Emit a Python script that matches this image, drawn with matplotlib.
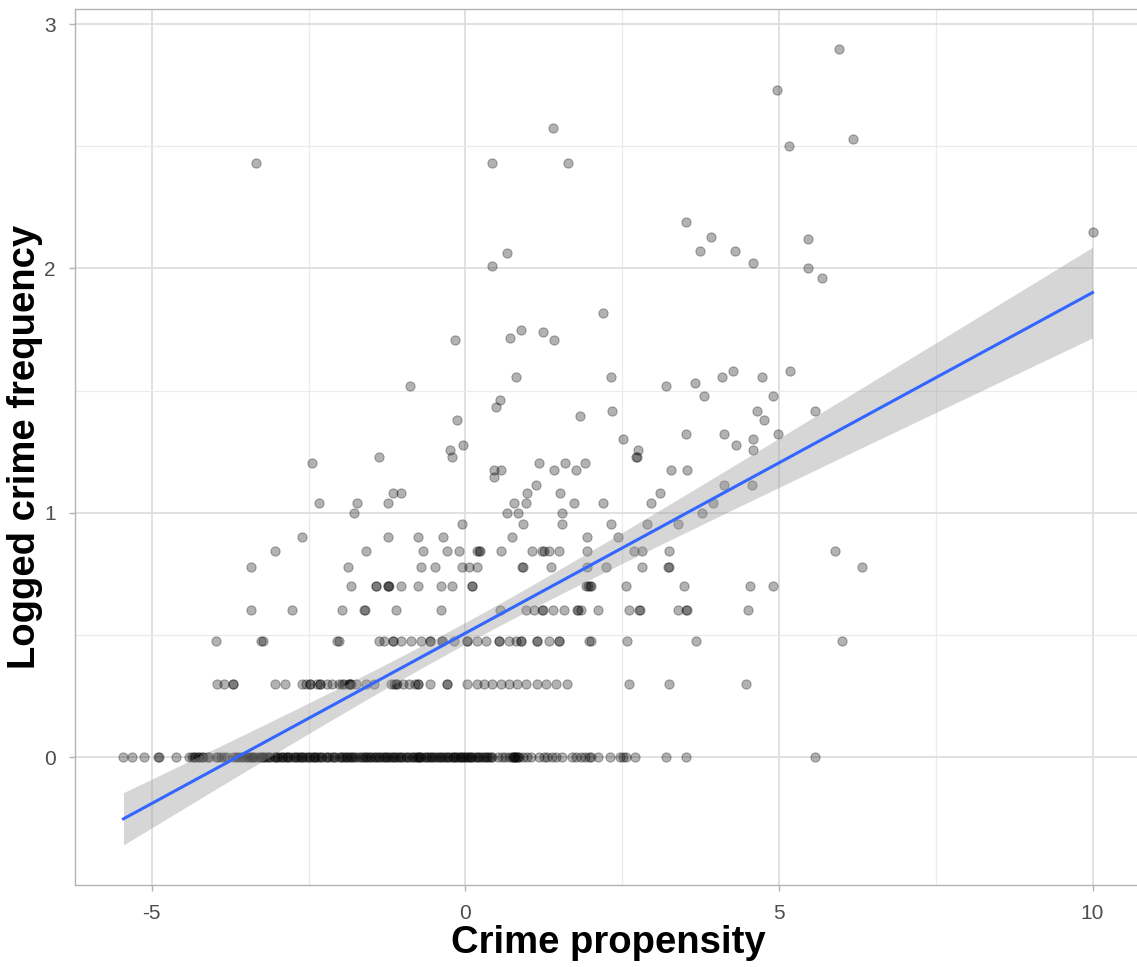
import numpy as np
import matplotlib
matplotlib.use("Agg")
import matplotlib.pyplot as plt

plt.rcParams['font.family'] = ['Liberation Sans', 'DejaVu Sans']
plt.rcParams['axes.unicode_minus'] = False

# crime propensity of each respondent, grouped by number of crimes reported
prop_1 = [-5.45, -5.32, -5.13, -4.90, -4.89, -4.62, -4.40, -4.36, -4.31, -4.27, -4.24, -4.20,
          -4.12, -3.97, -3.95, -3.84, -3.71, -3.62, -3.55, -3.49, -3.44, -3.38, -3.31, -3.27,
          -3.22, -3.16, -3.11, -3.05, -3.01, -2.95, -2.90, -2.86, -2.80, -2.74, -2.70, -2.66,
          -2.61, -2.55, -2.52, -2.47, -2.41, -2.36, -2.33, -2.28, -2.22, -2.17, -2.12, -2.08,
          -2.02, -1.96, -1.93, -1.88, -1.83, -1.77, -1.74, -1.69, -1.63, -1.58, -1.55, -1.50,
          -1.44, -1.41, -1.36, -1.31, -1.27, -1.22, -1.19, -1.14, -1.08, -1.04, -0.99, -0.95,
          -0.90, -0.85, -0.81, -0.77, -0.72, -0.66, -0.63, -0.58, -0.53, -0.50, -0.46, -0.41,
          -0.36, -0.33, -0.29, -0.24, -0.20, -0.15, -0.11, -0.07, -0.02, 0.02, 0.07, 0.11,
          0.15, 0.20, 0.24, 0.29, 0.33, 0.38, 0.43,
          -3.40, -3.20, -3.00, -2.85, -2.60, -2.40, -1.90, -1.45, -1.30, -1.10, -0.75, -0.70,
          -0.20, -0.05, 0.05,
          -4.33, -4.18, -4.08, -3.90, -3.80, -3.66, -3.58, -3.46, -3.35, -3.24, -3.13, -3.03,
          -2.93, -2.82, -2.72, -2.63, -2.50, -2.43, -2.30, -2.20, -2.10, -1.99, -1.86, -1.80,
          -1.66, -1.60, -1.52, -1.38, -1.25, -1.16, -1.02, -0.93, -0.83, -0.74, -0.61, -0.55,
          -0.44, -0.38, -0.27, -0.17, -0.09, 0.00, 0.09, 0.18, 0.27, 0.35, 0.41, 0.76, 0.79,
          0.84,
          0.52, 0.58, 0.64, 0.69, 0.74, 0.78, 0.80, 0.82, 0.86, 0.92, 0.98, 1.04, 1.18, 1.25,
          1.31, 1.38, 1.45, 1.54, 1.70, 1.77, 1.84, 1.91, 1.97, 2.00, 2.12, 2.31, 2.46, 2.51,
          2.56, 2.71, 3.20, 3.52, 5.57]
prop_2 = [-3.96, -3.84, -3.71, -3.70, -3.03, -2.88, -2.60, -2.54, -2.48, -2.47, -2.37, -2.32,
          -2.31, -2.21, -2.12, -1.97, -1.85, -1.84, -2.01, -1.94, -1.86, -1.82, -1.74, -1.58,
          -1.45, -1.18, -1.13, -1.10, -1.09, -1.00, -0.89, -0.81, -0.76, -0.75, -0.57, -0.30,
          -0.29, 0.03, 0.18, 0.30, 0.43, 0.57, 0.70, 0.83, 0.97, 1.15, 1.29, 1.45, 1.62, 2.61,
          3.25, 4.47]
prop_3 = [-3.98, -3.26, -3.23, -2.05, -2.01, -1.37, -1.29, -1.16, -1.16, -1.02, -0.86, -0.70,
          -0.57, -0.57, -0.37, -0.37, -0.18, 0.03, 0.03, 0.18, 0.33, 0.54, 0.54, 0.70, 0.81,
          0.89, 0.89, 1.15, 1.15, 1.34, 1.50, 1.50, 1.97, 2.01, 2.58, 3.68, 6.00]
prop_4 = [-3.42, -2.77, -1.96, -1.61, -1.60, -1.10, -0.38, 0.56, 0.97, 1.10, 1.23, 1.24, 1.39,
          1.58, 1.78, 1.79, 1.85, 2.12, 2.61, 2.77, 2.78, 3.39, 3.52, 3.53, 4.51]
prop_5 = [-1.83, -1.43, -1.42, -1.24, -1.23, -1.21, -1.02, -0.76, -0.38, -0.21, 0.10, 0.11,
          1.93, 1.96, 1.98, 2.01, 2.56, 3.49, 4.54, 4.90]
prop_6 = [-3.42, -1.87, -0.70, -0.49, -0.06, 0.06, 0.18, 0.91, 0.92, 1.37, 1.94, 2.25, 2.82,
          3.23, 3.24, 6.32]
prop_7 = [-3.03, -1.58, -0.68, -0.29, -0.10, 0.18, 0.22, 0.23, 0.57, 1.07, 1.23, 1.25, 1.34,
          1.50, 1.94, 2.69, 2.82, 3.25, 5.89]
prop_8 = [-2.61, -1.24, -0.76, -0.35, 0.75, 1.94, 2.44]
prop_9 = [-0.06, 0.92, 1.54, 2.32, 2.90, 3.39]
prop_10 = [-1.78, 0.67, 0.84, 1.54, 3.77]
prop_11 = [-2.34, -1.72, -1.23, 0.78, 0.96, 1.74, 2.20, 2.96, 3.95]
prop_12 = [-1.15, -1.02, 0.99, 1.51, 3.11]

# the rarer, higher counts
prop_hi = [-3.34, 0.43, 1.64, 1.39, 0.67, 0.43, 5.96, 4.97, 6.18, 5.16, 3.52, 3.92, 5.46,
           3.74, 4.30, 4.59, 5.46, 5.68, 10.0, 2.20, -0.16, 0.72, 0.89, 1.24, 1.42, 0.81,
           -0.88, 0.56, 0.49, 1.83, -0.13, 2.34, 4.65, 5.57, 4.76, 3.20, 3.66, 3.81, 4.90,
           2.32, 4.09, 4.73, 4.27, 5.18, 2.52, 4.59, 3.52, 4.12, 4.98, 4.32, -0.03, 2.75,
           4.59, -0.24, 2.72, 2.73, -1.37, -0.21, -2.45, 1.18, 1.59, 1.91, 0.46, 0.57, 1.42,
           1.77, 3.28, 3.54, 0.46, 1.13, 4.12, 4.57]
freq_hi = [269, 269, 269, 374, 116, 102, 794, 537, 339, 316, 155, 135, 132,
           118, 118, 105, 100, 91, 141, 66, 51, 52, 56, 55, 51, 36,
           33, 29, 27, 25, 24, 26, 26, 26, 24, 33, 34, 30, 30,
           36, 36, 36, 38, 38, 20, 20, 21, 21, 21, 19, 19, 18,
           18, 18, 17, 17, 17, 17, 16, 16, 16, 16, 15, 15, 15,
           15, 15, 15, 14, 13, 13, 13]

groups = [prop_1, prop_2, prop_3, prop_4, prop_5, prop_6, prop_7, prop_8,
          prop_9, prop_10, prop_11, prop_12]
x = np.concatenate([np.array(g, float) for g in groups] + [np.array(prop_hi, float)])
freq = np.concatenate([np.full(len(g), k + 1) for k, g in enumerate(groups)]
                      + [np.array(freq_hi, float)])
y = np.log10(freq)

# linear fit with 95% confidence band
b1, b0 = np.polyfit(x, y, 1)
n = len(x)
resid = y - (b0 + b1 * x)
s = np.sqrt(np.sum(resid ** 2) / (n - 2))
xbar = x.mean()
sxx = np.sum((x - xbar) ** 2)
xs = np.linspace(x.min(), x.max(), 80)
fit = b0 + b1 * xs
se = s * np.sqrt(1.0 / n + (xs - xbar) ** 2 / sxx)
lo = fit - 1.966 * se
hi = fit + 1.966 * se

fig = plt.figure(figsize=(11.37, 9.67), dpi=100)
ax = fig.add_axes([0.066, 0.085, 0.9375, 0.906])

ax.scatter(x, y, s=44, facecolor=(0, 0, 0, 0.3), edgecolor=(0, 0, 0, 0.3),
           linewidths=0.8, zorder=3)
ax.fill_between(xs, lo, hi, color='#999999', alpha=0.4, linewidth=0, zorder=4)
ax.plot(xs, fit, color='#3366FF', linewidth=2.2, zorder=5)

# 5% padding on both axes
xr = x.max() - x.min()
ax.set_xlim(x.min() - 0.05 * xr, x.max() + 0.05 * xr)
ymin = min(y.min(), lo.min())
ymax = max(y.max(), hi.max())
yr = ymax - ymin
ax.set_ylim(ymin - 0.05 * yr, ymax + 0.05 * yr)

ax.set_xticks([-5, 0, 5, 10])
ax.set_xticks([-2.5, 2.5, 7.5], minor=True)
ax.set_yticks([0, 1, 2, 3])
ax.set_yticks([0.5, 1.5, 2.5], minor=True)
ax.grid(which='major', color='#DEDEDE', linewidth=1.3, zorder=0)
ax.grid(which='minor', color='#EBEBEB', linewidth=0.9, zorder=0)
ax.set_axisbelow(True)

for sp in ax.spines.values():
    sp.set_color('#B3B3B3')
    sp.set_linewidth(1.0)
ax.tick_params(which='major', length=4, width=1, color='#B3B3B3',
               labelcolor='#4D4D4D', labelsize=15, pad=10)
ax.tick_params(which='minor', length=0)

ax.set_xlabel('Crime propensity', fontsize=27.5, fontweight='bold')
ax.set_ylabel('Logged crime frequency', fontsize=27.5, fontweight='bold')
ax.xaxis.set_label_coords(0.5, -0.046)
ax.yaxis.set_label_coords(-0.03, 0.5)

fig.savefig('out.png', dpi=100)
